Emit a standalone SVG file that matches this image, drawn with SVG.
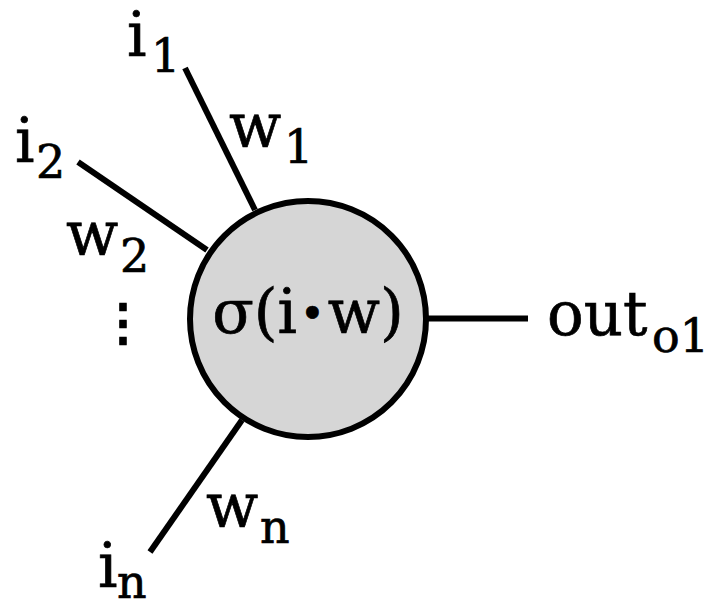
<svg xmlns="http://www.w3.org/2000/svg" width="715" height="609" viewBox="0 0 715 609">
<style>
.t{font-family:"DejaVu Serif","Noto Serif",serif;font-size:61px;fill:#000;stroke:#000;stroke-width:0.7}
.s{font-size:46px}
.ln{stroke:#000;stroke-width:6;fill:none}
</style>
<rect width="715" height="609" fill="#fff"/>
<g id="connectors">
<line class="ln" x1="185" y1="68" x2="255" y2="210"/>
<line class="ln" x1="78" y1="162" x2="207" y2="250"/>
<line class="ln" x1="150" y1="552" x2="242" y2="420"/>
<line class="ln" x1="428" y1="318.5" x2="528" y2="318.5"/>
</g>
<g id="neuron">
<circle cx="308" cy="319" r="118" fill="#d6d6d6" stroke="#000" stroke-width="6"/>
<text class="t" x="308" y="333" text-anchor="middle">σ(i<tspan dx="3" dy="-5" style="font-size:42px">•</tspan><tspan dx="3" dy="5">w)</tspan></text>
</g>
<g id="input1">
<text class="t" x="127" y="56">i</text><text class="t s" x="151" y="72">1</text>
<text class="t" x="229" y="147">w</text><text class="t s" x="284" y="163">1</text>
</g>
<g id="input2">
<text class="t" x="15" y="162">i</text><text class="t s" x="36" y="178">2</text>
<text class="t" x="66" y="255">w</text><text class="t s" x="120" y="272">2</text>
</g>
<g id="ellipsis">
<text class="t" x="123" y="339" text-anchor="middle" style="font-size:50px;font-weight:bold">⋮</text>
</g>
<g id="inputn">
<text class="t" x="98" y="587">i</text><text class="t s" x="117" y="598">n</text>
<text class="t" x="206" y="527">w</text><text class="t s" x="260" y="543">n</text>
</g>
<g id="output">
<text class="t" x="547" y="335">out</text><text class="t s" x="652" y="352">o1</text>
</g>
</svg>
